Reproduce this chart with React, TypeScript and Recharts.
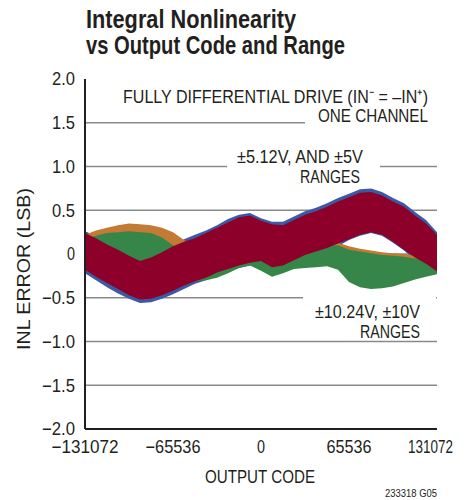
import React from "react";
import {
  ComposedChart,
  Area,
  XAxis,
  YAxis,
  CartesianGrid,
  ReferenceLine,
} from "recharts";

const FONT = "'Liberation Sans', Arial, sans-serif";

// output code samples (x)
const codes = [
  -131072, -122880, -114688, -106496, -98304, -90112, -81920, -73728, -65536,
  -57344, -49152, -40960, -32768, -24576, -16384, -8192, 0, 8192, 16384, 24576,
  32768, 40960, 49152, 57344, 65536, 73728, 81920, 90112, 98304, 106496, 114688,
  122880, 131072,
];

// ±5.12V range (blue), drawn underneath the ±5V one
const blueHi = [0.26, 0.21, 0.14, 0.08, 0.01, -0.05, -0.01, 0.05, 0.12, 0.17, 0.22, 0.27, 0.33, 0.4, 0.45, 0.47, 0.41, 0.37, 0.37, 0.43, 0.49, 0.53, 0.58, 0.64, 0.69, 0.74, 0.75, 0.71, 0.64, 0.58, 0.48, 0.39, 0.25];
const blueLo = [-0.22, -0.3, -0.38, -0.45, -0.51, -0.56, -0.55, -0.51, -0.46, -0.4, -0.34, -0.3, -0.25, -0.2, -0.16, -0.13, -0.11, -0.18, -0.17, -0.1, -0.04, 0.0, 0.04, 0.09, 0.16, 0.21, 0.24, 0.21, 0.13, 0.04, -0.07, -0.14, -0.22];

// ±5V range (dark red)
const redHi = [0.24, 0.18, 0.11, 0.05, -0.02, -0.08, -0.04, 0.02, 0.09, 0.14, 0.18, 0.24, 0.3, 0.36, 0.42, 0.44, 0.38, 0.34, 0.33, 0.39, 0.45, 0.49, 0.54, 0.6, 0.65, 0.7, 0.71, 0.67, 0.6, 0.54, 0.44, 0.35, 0.22];
const redLo = [-0.18, -0.26, -0.33, -0.4, -0.47, -0.52, -0.51, -0.47, -0.42, -0.36, -0.31, -0.27, -0.21, -0.17, -0.13, -0.1, -0.08, -0.15, -0.13, -0.07, -0.01, 0.03, 0.07, 0.12, 0.17, 0.22, 0.25, 0.22, 0.14, 0.05, -0.04, -0.11, -0.2];

// ±10.24V range (orange)
const orangeHi = [0.22, 0.27, 0.3, 0.33, 0.35, 0.34, 0.33, 0.3, 0.25, 0.16, 0.08, 0.02, -0.02, -0.03, -0.02, 0.02, 0.04, 0.0, 0.0, 0.05, 0.08, 0.11, 0.13, 0.13, 0.09, 0.06, 0.04, 0.02, 0.01, 0.0, -0.02, -0.04, -0.06];
const orangeLo = [-0.09, -0.11, -0.13, -0.15, -0.17, -0.19, -0.21, -0.23, -0.25, -0.27, -0.28, -0.27, -0.24, -0.19, -0.13, -0.1, -0.16, -0.23, -0.19, -0.14, -0.13, -0.12, -0.11, -0.15, -0.29, -0.35, -0.37, -0.36, -0.34, -0.3, -0.26, -0.23, -0.2];

// ±10V range (green)
const greenHi = [0.17, 0.21, 0.24, 0.25, 0.26, 0.25, 0.24, 0.19, 0.1, 0.04, 0.0, -0.03, -0.06, -0.07, -0.05, 0.0, 0.0, -0.07, -0.05, 0.0, 0.04, 0.08, 0.1, 0.1, 0.05, 0.03, 0.01, -0.01, -0.02, -0.03, -0.05, -0.07, -0.09];
const greenLo = [-0.12, -0.14, -0.16, -0.18, -0.2, -0.22, -0.24, -0.26, -0.28, -0.3, -0.31, -0.3, -0.27, -0.22, -0.16, -0.13, -0.19, -0.26, -0.22, -0.17, -0.16, -0.15, -0.14, -0.18, -0.32, -0.38, -0.4, -0.39, -0.37, -0.33, -0.29, -0.26, -0.23];

const xTicks = [-131072, -65536, 0, 65536, 131072];
const xTickLabels = ["−131072", "−65536", "0", "65536", "131072"];
const xTickWidths = [67, 55, 8, 45, 45];
const yTicks = [-2, -1.5, -1, -0.5, 0, 0.5, 1, 1.5, 2];
const yTickLabels = ["−2.0", "−1.5", "−1.0", "−0.5", "0", "0.5", "1.0", "1.5", "2.0"];

const data = codes.map((code, i) => ({
  code,
  blue: [blueLo[i], blueHi[i]],
  orange: [orangeLo[i], orangeHi[i]],
  green: [greenLo[i], greenHi[i]],
  red: [redLo[i], redHi[i]],
}));

const GRID = "#8a8a8a";
const FRAME = "#231f20";
const TEXT = "#231f20";

function XTick(props: any) {
  const { x, y, payload } = props;
  const idx = xTicks.indexOf(payload.value);
  const shift = idx === xTicks.length - 1 ? -6.5 : 0;
  return (
    <text
      x={x + shift}
      y={y}
      dy="0.71em"
      textAnchor="middle"
      fontSize={18}
      fontFamily={FONT}
      fill={TEXT}
      textLength={xTickWidths[idx]}
      lengthAdjust="spacingAndGlyphs"
    >
      {xTickLabels[idx]}
    </text>
  );
}

function YTick(props: any) {
  const { x, y, payload } = props;
  const idx = yTicks.indexOf(payload.value);
  const label = yTickLabels[idx];
  const w = label === "0" ? 8 : label.length === 4 ? 33 : 23;
  return (
    <text
      x={x}
      y={y}
      dy="0.36em"
      textAnchor="end"
      fontSize={18}
      fontFamily={FONT}
      fill={TEXT}
      textLength={w}
      lengthAdjust="spacingAndGlyphs"
    >
      {label}
    </text>
  );
}

export default function App() {
  return (
    <div style={{ position: "absolute", left: 0, top: 0, width: 465, height: 500, background: "#fff" }}>
      <ComposedChart
        width={465}
        height={500}
        data={data}
        margin={{ top: 79, right: 28, bottom: 41, left: 0 }}
      >
        <CartesianGrid vertical={false} horizontalValues={[0.5, 0, -0.5, -1, -1.5]} stroke={GRID} strokeWidth={1.5} />
        <XAxis
          type="number"
          dataKey="code"
          domain={[-131072, 131072]}
          ticks={xTicks}
          tick={<XTick />}
          tickLine={false}
          tickMargin={5}
          height={30}
          axisLine={{ stroke: FRAME, strokeWidth: 2 }}
        />
        <XAxis
          xAxisId="top"
          orientation="top"
          type="number"
          dataKey="code"
          domain={[-131072, 131072]}
          tick={false}
          tickLine={false}
          height={0}
          axisLine={{ stroke: FRAME, strokeWidth: 2 }}
        />
        <YAxis
          type="number"
          domain={[-2, 2]}
          ticks={yTicks}
          tick={<YTick />}
          tickLine={false}
          tickMargin={4}
          width={85}
          axisLine={{ stroke: FRAME, strokeWidth: 2 }}
        />
        <YAxis
          yAxisId="right"
          orientation="right"
          type="number"
          domain={[-2, 2]}
          tick={false}
          tickLine={false}
          width={0}
          axisLine={{ stroke: FRAME, strokeWidth: 2 }}
        />

        <Area dataKey="blue" type="linear" stroke="none" fill="#3b5aa5" fillOpacity={1} isAnimationActive={false} />
        <Area dataKey="orange" type="linear" stroke="none" fill="#c27a34" fillOpacity={1} isAnimationActive={false} />
        <Area dataKey="green" type="linear" stroke="none" fill="#36864a" fillOpacity={1} isAnimationActive={false} />
        <Area dataKey="red" type="linear" stroke="none" fill="#8c0029" fillOpacity={1} isAnimationActive={false} />

        {/* partial grid lines, broken where the notes sit */}
        <ReferenceLine segment={[{ x: -131072, y: 1.5 }, { x: 32768, y: 1.5 }]} stroke={GRID} strokeWidth={1.5} />
        <ReferenceLine segment={[{ x: -131072, y: 1 }, { x: -25300, y: 1 }]} stroke={GRID} strokeWidth={1.5} />
        <ReferenceLine segment={[{ x: 88600, y: 1 }, { x: 131072, y: 1 }]} stroke={GRID} strokeWidth={1.5} />
        <ReferenceLine segment={[{ x: 31300, y: -0.5 }, { x: 130300, y: -0.5 }]} stroke="#fff" strokeWidth={3} />
      </ComposedChart>

      <svg width={465} height={500} style={{ position: "absolute", left: 0, top: 0, pointerEvents: "none" }}>
        <g fontFamily={FONT} fill={TEXT}>
          <text x={86} y={28} fontSize={25} fontWeight="bold" textLength={210} lengthAdjust="spacingAndGlyphs">
            Integral Nonlinearity
          </text>
          <text x={86} y={54} fontSize={25} fontWeight="bold" textLength={259} lengthAdjust="spacingAndGlyphs">
            vs Output Code and Range
          </text>

          <text x={123} y={103} fontSize={18} textLength={305} lengthAdjust="spacingAndGlyphs">
            FULLY DIFFERENTIAL DRIVE (IN⁻ = –IN⁺)
          </text>
          <text x={318} y={122} fontSize={18} textLength={110} lengthAdjust="spacingAndGlyphs">ONE CHANNEL</text>

          <text x={237} y={163} fontSize={18} textLength={126} lengthAdjust="spacingAndGlyphs">±5.12V, AND ±5V</text>
          <text x={300} y={183} fontSize={18} textLength={60} lengthAdjust="spacingAndGlyphs">RANGES</text>

          <text x={315} y={318} fontSize={18} textLength={105} lengthAdjust="spacingAndGlyphs">±10.24V, ±10V</text>
          <text x={360} y={338} fontSize={18} textLength={60} lengthAdjust="spacingAndGlyphs">RANGES</text>

          <text
            transform="translate(30,269) rotate(-90)"
            fontSize={18}
            textAnchor="middle"
            textLength={162}
            lengthAdjust="spacingAndGlyphs"
          >
            INL ERROR (LSB)
          </text>
          <text x={205} y={483} fontSize={18} textLength={110} lengthAdjust="spacingAndGlyphs">OUTPUT CODE</text>
          <text x={385} y={497} fontSize={10} textLength={52} lengthAdjust="spacingAndGlyphs">233318 G05</text>
        </g>
      </svg>
    </div>
  );
}
